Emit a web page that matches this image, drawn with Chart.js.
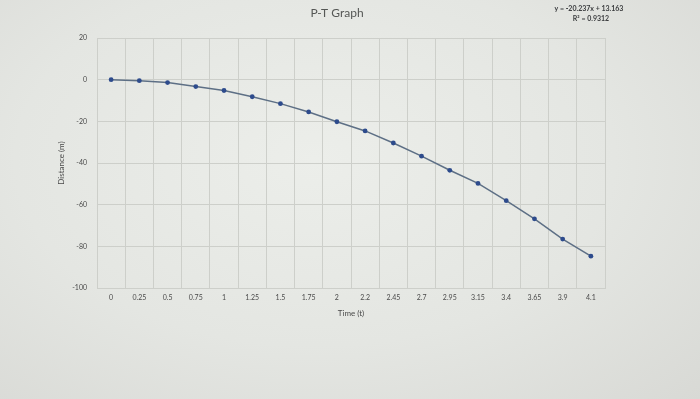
<!DOCTYPE html>
<html>
<head>
<meta charset="utf-8">
<script src="https://cdn.jsdelivr.net/npm/chart.js@4/dist/chart.umd.min.js"></script>
<style>
  html, body { margin: 0; padding: 0; background: #e5e6e3; }
  #wrap { width: 700px; height: 399px; position: relative;
    background: radial-gradient(ellipse at 45% 40%, #eceeea 0%, #e4e6e2 55%, #d8d9d5 100%); }
  canvas { display: block; }
</style>
</head>
<body>
<div id="wrap"><canvas id="c" width="700" height="399"></canvas></div>
<script>
const categories = ["0","0.25","0.5","0.75","1","1.25","1.5","1.75","2","2.2","2.45","2.7","2.95","3.15","3.4","3.65","3.9","4.1"];
const distance = [0,-0.5,-1.4,-3.3,-5.2,-8.2,-11.5,-15.5,-20.2,-24.6,-30.4,-36.7,-43.5,-49.8,-58.1,-66.8,-76.5,-84.7];
const yTicks = [20,0,-20,-40,-60,-80,-100];
const chartTitle = "P-T Graph";
const trendEq = "y = -20.237x + 13.163";
const trendR2 = "R² = 0.9312";
const xTitle = "Time (t)";
const yTitle = "Distance (m)";

const textPlugin = {
  id: 'texts',
  afterDraw(chart) {
    const ctx = chart.ctx;
    ctx.save();
    ctx.textAlign = 'center';
    ctx.textBaseline = 'middle';
    ctx.fillStyle = '#555755';
    ctx.font = '12px Lato, "Open Sans", sans-serif';
    ctx.fillText(chartTitle, 337, 13);
    ctx.fillStyle = '#3a3c3e';
    ctx.font = 'bold 7px Lato, "Open Sans", sans-serif';
    ctx.fillText(trendEq, 589, 9);
    ctx.fillText(trendR2, 591, 19);
    ctx.restore();
  }
};

new Chart(document.getElementById('c'), {
  type: 'line',
  data: {
    labels: categories,
    datasets: [{
      data: distance,
      borderColor: '#5d6f85',
      borderWidth: 1.5,
      pointRadius: 2.4,
      pointBackgroundColor: '#2d4b8c',
      pointBorderColor: '#2d4b8c',
      pointBorderWidth: 0,
      tension: 0,
      fill: false
    }]
  },
  options: {
    responsive: false,
    animation: false,
    layout: { padding: { top: 38, right: 95, left: 0, bottom: 0 } },
    plugins: { legend: { display: false }, tooltip: { enabled: false } },
    scales: {
      x: {
        type: 'category',
        offset: true,
        grid: { offset: true, color: '#cdcfca', lineWidth: 1, drawTicks: false },
        border: { color: '#cdcfca' },
        ticks: { color: '#4a4a4a', font: { size: 7, family: 'Lato, "Open Sans", sans-serif' }, padding: 6, maxRotation: 0, autoSkip: false },
        title: { display: true, text: xTitle, color: '#4a4a4a', font: { size: 8, family: 'Lato, "Open Sans", sans-serif' }, padding: { top: 0, bottom: 81 } },
        afterFit(scale) { scale.height = 111; }
      },
      y: {
        min: -100, max: 20,
        afterBuildTicks(scale) { scale.ticks = yTicks.map(v => ({ value: v })); },
        grid: { color: '#cdcfca', lineWidth: 1, drawTicks: false },
        border: { color: '#cdcfca' },
        ticks: { color: '#4a4a4a', font: { size: 7, family: 'Lato, "Open Sans", sans-serif' }, padding: 10 },
        title: { display: true, text: yTitle, color: '#4a4a4a', font: { size: 8, family: 'Lato, "Open Sans", sans-serif' }, padding: { top: 57, bottom: 0 } },
        afterFit(scale) { scale.width = 97; }
      }
    }
  },
  plugins: [textPlugin]
});
</script>
</body>
</html>
